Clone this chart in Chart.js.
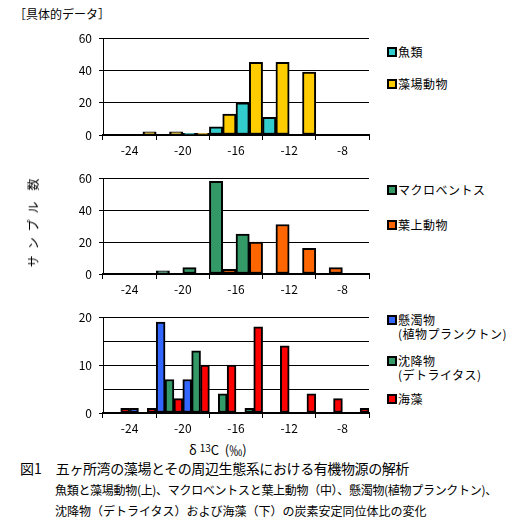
<!DOCTYPE html>
<html>
<head>
<meta charset="utf-8">
<script src="https://cdn.jsdelivr.net/npm/chart.js@4"></script>
<style>
  body { margin: 0; background: #fff; }
  #page { position: relative; width: 516px; height: 528px; font-family: "Noto Sans CJK JP", sans-serif; color: #000; font-size: 12px; overflow: hidden; }
  canvas { position: absolute; left: 0; }
  .t { position: absolute; white-space: nowrap; line-height: 1; }
  .leg { position: absolute; left: 387px; }
  .leg .box { position: absolute; left: 0; width: 6px; height: 6px; border: 2px solid #000; }
  .leg .txt { position: absolute; left: 11px; white-space: nowrap; font-size: 12px; line-height: 14px; letter-spacing: 0.5px; }
</style>
</head>
<body>
<div id="page">
  <div class="t" style="left:14px;top:8px;font-size:12px;">［具体的データ］</div>
  <canvas id="c1" width="372" height="135" style="top:24px"></canvas>
  <canvas id="c2" width="372" height="134" style="top:164px"></canvas>
  <canvas id="c3" width="372" height="134" style="top:303px"></canvas>
  <div class="t" style="left:33px;top:220px;transform:translate(-50%,-50%) rotate(-90deg);letter-spacing:6px;">サンプル<span style="margin-left:5px">数</span></div>
  <div class="t" style="left:189px;top:443px;font-size:13px;">δ <span style="font-size:10px;vertical-align:3px">13</span>C &nbsp;(‰)</div>
  <div class="t" style="left:20px;top:461px;font-size:14px;">図1　<span style="letter-spacing:-0.4px">五ヶ所湾の藻場とその周辺生態系における有機物源の解析</span></div>
  <div class="t" style="left:55px;top:484px;font-size:12px;letter-spacing:-0.3px;">魚類と藻場動物(上)、マクロベントスと葉上動物（中）、懸濁物(植物プランクトン)、</div>
  <div class="t" style="left:55px;top:505px;font-size:12px;">沈降物（デトライタス）および海藻（下）の炭素安定同位体比の変化</div>
  <div id="legends"></div>
</div>
<script>
// δ13C bins (centre of each 2‰ class)
const bins = [-25, -23, -21, -19, -17, -15, -13, -11, -9, -7]
const xTicks = [-24, -20, -16, -12, -8]

// top: 魚類 / 藻場動物
const fish = [0, 0, 0, 1, 5, 20, 11, 0, 0, 0]
const seagrassFauna = [0, 2, 2, 1, 13, 45, 45, 39, 0, 0]
// middle: マクロベントス / 葉上動物
const macrobenthos = [0, 0, 2, 4, 58, 25, 0, 0, 0, 0]
const epiphyticFauna = [0, 0, 0, 0, 3, 20, 31, 16, 4, 0]
// bottom: 懸濁物 / 沈降物 / 海藻
const suspended = [0, 1, 19, 7, 0, 0, 0, 0, 0, 0]
const sediment = [0, 0, 7, 13, 4, 1, 0, 0, 0, 0]
const seaweed = [1, 1, 3, 10, 10, 18, 14, 4, 3, 1]

Chart.defaults.font.family = "'Noto Sans CJK JP', sans-serif"
Chart.defaults.font.size = 12
Chart.defaults.color = "#000"

function series(label, values, color){
    return {
        label: label,
        data: bins.map((b, i) => ({x: b, y: values[i]})),
        backgroundColor: color,
        borderColor: "#000",
        borderWidth: 2,
        borderSkipped: false,
        categoryPercentage: 1,
        barPercentage: 1
    }
}

function makeChart(id, datasets, yMax, yStep, labelStep){
    new Chart(document.getElementById(id), {
        type: "bar",
        data: { datasets: datasets },
        options: {
            responsive: false,
            animation: false,
            devicePixelRatio: 1,
            layout: { padding: { top: 10, right: 3, left: 0, bottom: 0 } },
            plugins: { legend: { display: false }, tooltip: { enabled: false } },
            scales: {
                x: {
                    type: "linear",
                    offset: false,
                    min: -26,
                    max: -6,
                    afterBuildTicks: (scale) => { scale.ticks = xTicks.map(v => ({value: v})) },
                    afterFit: (scale) => { scale.height = 24 },
                    grid: { offset: true, drawOnChartArea: false, drawTicks: true, tickLength: 5, color: "#000" },
                    border: { color: "#000", width: 2 },
                    ticks: { padding: 3, maxRotation: 0, autoSkip: false }
                },
                y: {
                    min: 0,
                    max: yMax,
                    afterFit: (scale) => { scale.width = 103 },
                    ticks: {
                        stepSize: yStep,
                        padding: 7,
                        callback: (v) => v % labelStep === 0 ? v : ""
                    },
                    grid: {
                        color: "#000",
                        lineWidth: 1,
                        tickLength: 4,
                        tickColor: (ctx) => ctx.tick && ctx.tick.value % labelStep === 0 ? "#000" : "rgba(0,0,0,0)"
                    },
                    border: { color: "#000", width: 1 }
                }
            }
        }
    })
}

const top3 = [series("魚類", fish, "#33CCCC"), series("藻場動物", seagrassFauna, "#FFCC00")]
const mid3 = [series("マクロベントス", macrobenthos, "#339966"), series("葉上動物", epiphyticFauna, "#FF6600")]
const bot3 = [series("懸濁物\n(植物プランクトン)", suspended, "#3366FF"), series("沈降物\n(デトライタス)", sediment, "#339966"), series("海藻", seaweed, "#FF0000")]

makeChart("c1", top3, 60, 10, 20)
makeChart("c2", mid3, 60, 10, 20)
makeChart("c3", bot3, 20, 5, 10)

// legends (y centre of each entry)
const legendRows = [
    [top3, [52, 84]],
    [mid3, [190, 225]],
    [bot3, [320, 361, 399]]
]
const holder = document.getElementById("legends")
legendRows.forEach(([sets, ys]) => {
    sets.forEach((ds, i) => {
        const el = document.createElement("div")
        el.className = "leg"
        el.style.top = (ys[i] - 5) + "px"
        const box = document.createElement("div")
        box.className = "box"
        box.style.background = ds.backgroundColor
        const txt = document.createElement("div")
        txt.className = "txt"
        txt.style.top = "-2px"
        txt.innerHTML = ds.label.split("\n").join("<br>")
        el.appendChild(box)
        el.appendChild(txt)
        holder.appendChild(el)
    })
})
</script>
</body>
</html>
